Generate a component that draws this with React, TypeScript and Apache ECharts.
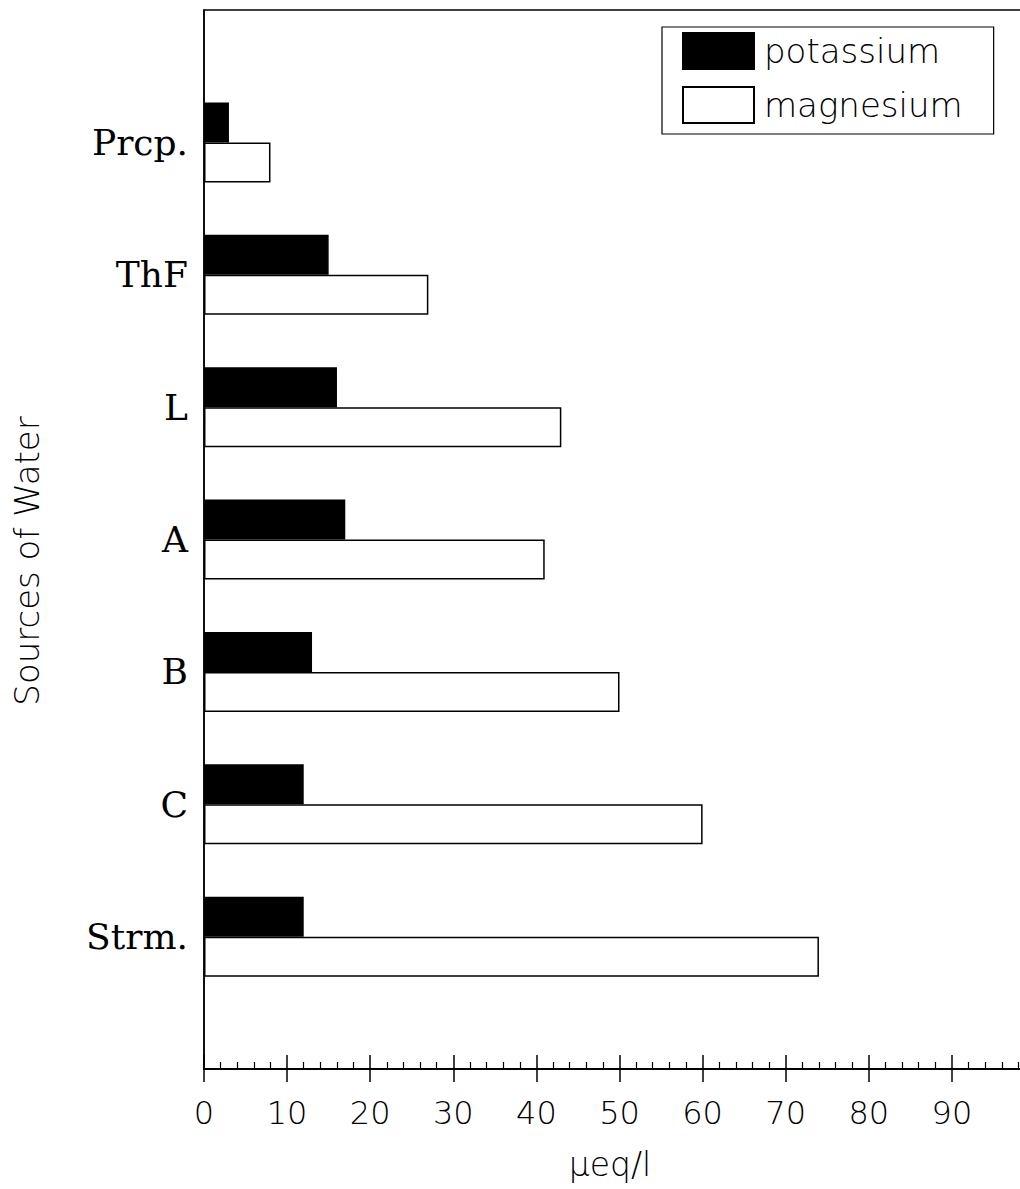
import React, { useEffect, useRef } from "react";
import * as echarts from "echarts";

// Sources of water, top to bottom
const sources = ["Prcp.", "ThF", "L", "A", "B", "C", "Strm."];
// Mean concentrations in µeq/l
const potassium = [3, 15, 16, 17, 13, 12, 12];
const magnesium = [8, 27, 43, 41, 50, 60, 74];
const seriesNames = ["potassium", "magnesium"];
const xTicks = { min: 0, max: 100, interval: 10 };

const SANS = "DejaVu Sans";
const SERIF = "DejaVu Serif";

export default function App() {
  const ref = useRef<HTMLDivElement>(null);

  useEffect(() => {
    if (!ref.current) return;
    const chart = echarts.init(ref.current, undefined, { renderer: "svg" });

    // empty slots above and below keep a free band at both ends of the axis
    const cats = ["", ...sources, ""];
    const pad = (arr: number[]) => [null, ...arr, null];

    chart.setOption({
      animation: false,
      backgroundColor: "#ffffff",
      grid: {
        left: 204,
        top: 10,
        right: 0,
        bottom: 120,
        show: true,
        borderColor: "#000",
        borderWidth: 1.5,
        backgroundColor: "transparent",
      },
      legend: {
        data: seriesNames,
        orient: "vertical",
        left: 662,
        top: 27,
        padding: [5, 31, 10, 20],
        itemWidth: 71,
        itemHeight: 36,
        itemGap: 16,
        borderColor: "#000",
        borderWidth: 1.2,
        icon: "rect",
        selectedMode: false,
        textStyle: {
          fontFamily: SANS,
          fontSize: 34,
          fontWeight: 200,
          color: "#000",
          padding: [0, 0, 0, 5],
        },
      },
      xAxis: [
        {
          type: "value",
          position: "bottom",
          min: xTicks.min,
          max: xTicks.max,
          interval: xTicks.interval,
          axisLine: { show: true, lineStyle: { color: "#000", width: 2 } },
          axisTick: { show: true, inside: true, length: 14, lineStyle: { color: "#000", width: 1.5 } },
          minorTick: { show: true, splitNumber: 5, length: 7, lineStyle: { color: "#000", width: 1.2 } },
          splitLine: { show: false },
          axisLabel: {
            show: true,
            margin: 28,
            showMaxLabel: false,
            fontFamily: SANS,
            fontSize: 32,
            fontWeight: 200,
            color: "#000",
          },
        },
        {
          // the part of each major tick that hangs below the axis line
          type: "value",
          position: "bottom",
          offset: 0,
          min: xTicks.min,
          max: xTicks.max,
          interval: xTicks.interval,
          axisLine: { show: false },
          axisTick: { show: true, inside: false, length: 13, lineStyle: { color: "#000", width: 1.5 } },
          splitLine: { show: false },
          axisLabel: { show: false },
        },
      ],
      yAxis: {
        type: "category",
        data: cats,
        inverse: true,
        boundaryGap: false,
        axisLine: { show: true, lineStyle: { color: "#000", width: 1.5 } },
        axisTick: { show: false },
        splitLine: { show: false },
        axisLabel: {
          margin: 16,
          fontFamily: SERIF,
          fontSize: 36,
          color: "#000",
        },
      },
      series: [
        {
          name: seriesNames[0],
          type: "bar",
          xAxisIndex: 0,
          data: pad(potassium),
          barWidth: 40,
          barGap: "0%",
          itemStyle: { color: "#000", borderColor: "#000", borderWidth: 1.5 },
        },
        {
          name: seriesNames[1],
          type: "bar",
          xAxisIndex: 0,
          data: pad(magnesium),
          barWidth: 40,
          barGap: "0%",
          itemStyle: { color: "#fff", borderColor: "#000", borderWidth: 1.5 },
        },
      ],
      graphic: [
        {
          type: "text",
          x: 27,
          y: 561,
          rotation: Math.PI / 2,
          style: {
            text: "Sources of Water",
            fontFamily: SANS,
            fontSize: 34,
            fontWeight: 200,
            fill: "#000",
            align: "center",
            verticalAlign: "middle",
          },
        },
        {
          type: "text",
          x: 610,
          y: 1164,
          style: {
            text: "μeq/l",
            fontFamily: SANS,
            fontSize: 33,
            fontWeight: 200,
            fill: "#000",
            align: "center",
            verticalAlign: "middle",
          },
        },
      ],
    });

    return () => chart.dispose();
  }, []);

  // The plot runs on past the right edge of the page, so the frame clips it
  return (
    <div
      style={{ position: "absolute", left: 0, top: 0, width: 1020, height: 1189, overflow: "hidden", background: "#fff" }}
    >
      <div ref={ref} style={{ width: 1035, height: 1189 }} />
    </div>
  );
}
